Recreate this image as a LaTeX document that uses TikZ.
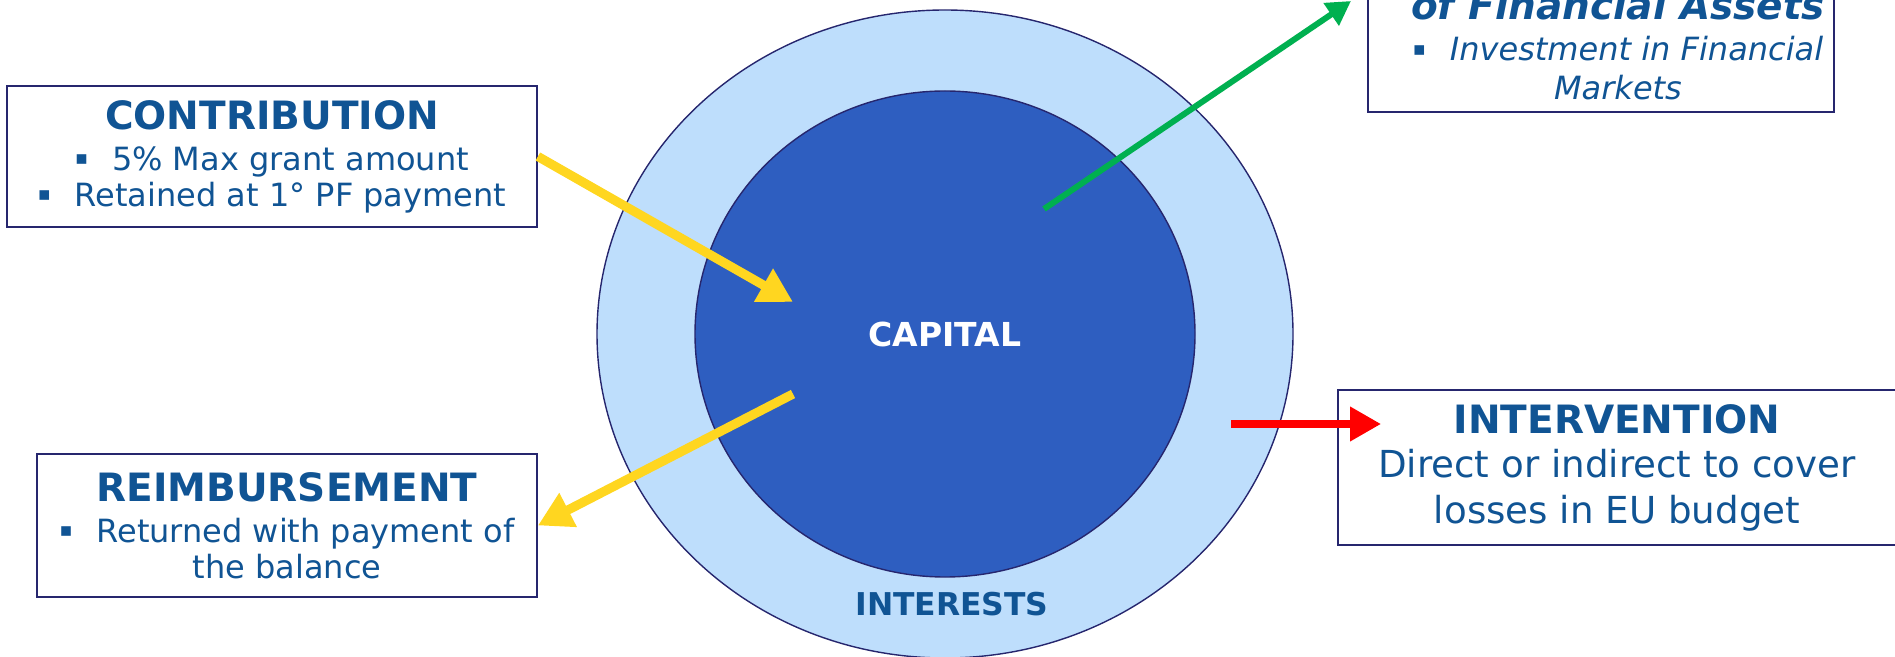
\documentclass[tikz,border=0pt]{standalone}
\usepackage{fontspec}
\setmainfont{DejaVu Sans}
\usetikzlibrary{shapes.geometric,arrows.meta}

\definecolor{fundblue}{RGB}{16,84,148}
\definecolor{navy}{RGB}{38,38,110}
\definecolor{ringblue}{RGB}{190,222,252}
\definecolor{coreblue}{RGB}{46,94,192}
\definecolor{flowyellow}{RGB}{255,214,32}
\definecolor{flowgreen}{RGB}{0,176,80}
\definecolor{flowred}{RGB}{255,0,0}

\newcommand\boxtitle[1]{{\fontsize{19.5}{22}\selectfont\bfseries #1}}
\newcommand\sqbullet{\raisebox{.17em}{\scalebox{.6}{▪}}\hspace{.75em}}

\tikzset{
  fund/.style={ellipse, draw=navy, line width=.7pt, inner sep=0pt},
  infobox/.style={draw=navy, line width=.9pt, fill=white, inner sep=0pt, align=center,
    font=\fontsize{16}{18}\selectfont},
  flow/.style={line width=#1, -{Triangle[length=17pt, width=18pt]}},
}

\begin{document}
\begin{tikzpicture}[x=.5pt, y=-.5pt, every node/.style={text=fundblue}]
  \useasboundingbox (0,0) rectangle (1895,657);
  \clip (0,0) rectangle (1895,657);

  % fund: interests ring around the capital
  \node[fund, fill=ringblue, minimum width=348pt, minimum height=324pt] (ring) at (945,334) {};
  \node[fund, fill=coreblue, minimum width=250pt, minimum height=243pt, text=white,
        font=\fontsize{16.5}{18}\selectfont\bfseries] (capital) at (945,334) {CAPITAL};
  \node[font=\fontsize{15.7}{18}\selectfont\bfseries] (interests) at (952,604) {INTERESTS};

  % boxes round the fund
  \node[infobox, minimum width=265pt, minimum height=70.5pt] (contrib) at (272,156.5)
    {\boxtitle{CONTRIBUTION}\\[2.5pt] \sqbullet 5\% Max grant amount\\ \sqbullet Retained at 1° PF payment};
  \node[infobox, minimum width=250pt, minimum height=71.5pt] (reimb) at (287,525.5)
    {\boxtitle{REIMBURSEMENT}\\[2.5pt] \sqbullet Returned with payment of\\ the balance};
  \node[infobox, minimum width=279pt, minimum height=77.5pt, font=\fontsize{18.6}{23}\selectfont] (interv) at (1617,467.5)
    {\boxtitle{INTERVENTION}\\[-1pt] Direct or indirect to cover\\ losses in EU budget};
  \node[infobox, minimum width=233pt, minimum height=67pt] (assets) at (1601,45) {};
  \node[align=center, font=\fontsize{16}{19.5}\selectfont\itshape] (assetstext) at (1618,45)
    {\boxtitle{of Financial Assets}\\[1pt] \sqbullet Investment in Financial\\ Markets};

  % money flows
  \coordinate (inTip) at (793,302);
  \coordinate (outTail) at (793,394);
  \coordinate (greenTail) at (1044,209);
  \coordinate (greenTip) at (1351,1);
  \coordinate (redTail) at (1231,424);
  \coordinate (redTip) at (1381,424);
  \draw[flow=4.6pt, flowyellow] (contrib.east) -- (inTip);
  \draw[flow=4.6pt, flowyellow] (outTail) -- (reimb.east);
  \draw[flowgreen, line width=3pt, -{Triangle[length=12pt, width=13pt]}] (greenTail) -- (greenTip);
  \draw[flowred, line width=3.6pt, -{Triangle[length=15.5pt, width=16.5pt]}] (redTail) -- (redTip);
\end{tikzpicture}
\end{document}
